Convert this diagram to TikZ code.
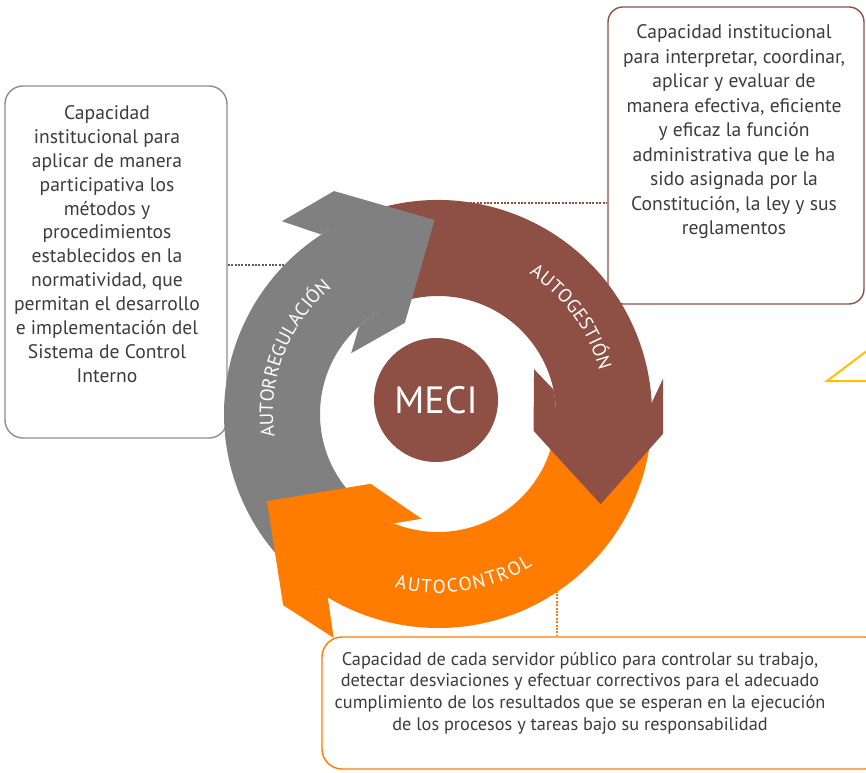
\documentclass[tikz,border=0pt]{standalone}
\usepackage{fontspec}
\setmainfont{PT Sans}
\usetikzlibrary{decorations.text,calc}
\definecolor{mbrown}{HTML}{8E4F45}
\definecolor{mgray}{HTML}{808080}
\definecolor{morange}{HTML}{FF7C00}
\definecolor{mtext}{HTML}{3C3C3C}
\definecolor{mgold}{HTML}{FFC000}
\def\Ro{214pt}
\def\Ri{118pt}
% body of a curved arrow: colour, tip angle, tail angle
\newcommand\mecibody[3]{%
  \fill[#1] (#3:\Ro) arc[start angle=#3, end angle=#2+26, radius=\Ro]
    -- (#2+26:\Ri) arc[start angle=#2+26, end angle=#3, radius=\Ri] -- cycle;}
% head of a curved arrow: colour, tip angle, tip radius, outer corner radius, outer barb radius
\newcommand\mecihead[5]{%
  \fill[#1] (#2+29:\Ro) arc[start angle=#2+29, end angle=#2+32, radius=\Ro]
    -- (#2+38:#5) -- (#2+24:#4) -- (#2:#3) -- (#2+19:97pt)
    -- (#2+54:106pt) -- (#2+41:\Ri) arc[start angle=#2+41, end angle=#2+29, radius=\Ri] -- cycle;}
\tikzset{
  infobox/.style={draw, line width=1.4pt, rounded corners=18pt, inner sep=0pt},
  boxtext/.style={text=mtext, align=center, inner sep=0pt},
  dotline/.style={line width=1.1pt, dash pattern=on 2pt off 1.4pt},
  arctext/.style={decorate, decoration={text along path, text align={fit to path}, text color=white}}
}
\begin{document}
\begin{tikzpicture}[x=1pt,y=1pt]
\useasboundingbox (0,0) rectangle (866,772);
\clip (0,0) rectangle (866,772);
% boxes
\node[infobox, draw=mgray!90, minimum width=222pt, minimum height=352pt] (regbox) at (116,510) {};
\node[infobox, draw=mbrown, rounded corners=15pt, minimum width=256pt, minimum height=297pt] (gesbox) at (736,616.5) {};
\node[infobox, draw=morange, rounded corners=20pt, minimum width=563pt, minimum height=132pt] (conbox) at (603.5,69) {};
\node[boxtext, font={\fontsize{19.6}{23.9}\selectfont}] (regtxt) at (107,528) {Capacidad\\institucional para\\aplicar de manera\\participativa los\\métodos y\\procedimientos\\establecidos en la\\normatividad, que\\permitan el desarrollo\\e implementación del\\Sistema de Control\\Interno};
\node[boxtext, font={\fontsize{19.6}{24.5}\selectfont}] (gestxt) at (734,640) {Capacidad institucional\\para interpretar, coordinar,\\aplicar y evaluar de\\manera efectiva, eficiente\\y eficaz la función\\administrativa que le ha\\sido asignada por la\\Constitución, la ley y sus\\reglamentos};
\node[boxtext, font={\fontsize{18.3}{21.7}\selectfont}] (context) at (580,79) {Capacidad de cada servidor público para controlar su trabajo,\\detectar desviaciones y efectuar correctivos para el adecuado\\cumplimiento de los resultados que se esperan en la ejecución\\de los procesos y tareas bajo su responsabilidad};
% connectors (their inner ends lie under the arrows)
\coordinate (regend) at (300,507);
\coordinate (gesend) at (470,569);
\coordinate (conend) at (557,212);
\draw[dotline, mgray!70!black] (regend -| regbox.east) -- (regend);
\draw[dotline, mbrown] (gesend) -- (gesend -| gesbox.west);
\draw[dotline, morange] (conend) -- (conend |- conbox.north);
% gold fragment at right edge
\draw[mgold, line width=2pt] (880,391) -- (827,391) -- (880,431);
% cycle
\begin{scope}[shift={(438,358)}]
  \mecibody{mbrown}{-29}{113}
  \mecibody{morange}{207}{353}
  \mecibody{mgray}{91}{229}
  \mecihead{mbrown}{-29}{186pt}{226pt}{228pt}
  \mecihead{morange}{207}{192pt}{246pt}{247pt}
  \mecihead{mgray}{91}{194pt}{246pt}{248pt}
  \path[arctext, decoration={text={|\fontsize{19}{19}\selectfont|AUTORREGULACIÓN}}]
    (188:165pt) arc[start angle=188, end angle=130, radius=165pt];
  \path[arctext, decoration={text={|\fontsize{19}{19}\selectfont|AUTOGESTIÓN}}]
    (57:167pt) arc[start angle=57, end angle=15, radius=167pt];
  \path[arctext, decoration={text={|\fontsize{19}{19}\selectfont|AUTOCONTROL}}]
    (256:179pt) arc[start angle=256, end angle=302, radius=179pt];
\end{scope}
\node[circle, fill=mbrown, minimum size=124pt, inner sep=0pt, text=white, font={\fontsize{38}{38}\selectfont}] (meci) at (436,372) {MECI};
\end{tikzpicture}
\end{document}
